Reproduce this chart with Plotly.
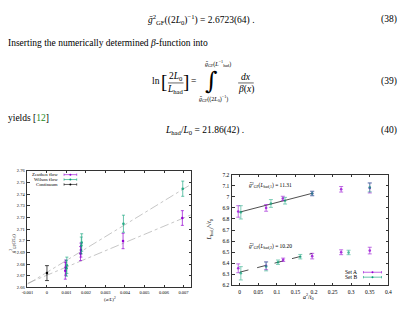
import plotly.graph_objects as go

W, H = 406, 314
def px(x): return x / W
def py(y): return 1 - y / H

# ---------------- data: left plot ----------------
zeu_x = [0.00094, 0.00096, 0.00172, 0.00174, 0.00390, 0.00694]
zeu_y = [2.6743, 2.6770, 2.6890, 2.6920, 2.6998, 2.7195]
zeu_e = [0.0072, 0.0065, 0.0060, 0.0060, 0.0066, 0.0063]
wil_x = [0.00100, 0.00102, 0.00176, 0.00178, 0.00392, 0.00696]
wil_y = [2.6765, 2.6790, 2.6960, 2.6985, 2.7146, 2.7446]
wil_e = [0.0068, 0.0070, 0.0072, 0.0075, 0.0073, 0.0065]
cont_x = [0.0]
cont_y = [2.6723]
cont_e = [0.0064]
fit_zeu = (2.6705, 7.0)    # intercept, slope
fit_wil = (2.6730, 10.2)
left_xrange = [-0.001, 0.0074]
left_yrange = [2.66, 2.76]
left_xticks = [-0.001, 0, 0.001, 0.002, 0.003, 0.004, 0.005, 0.006, 0.007]
left_xtext = ["-0.001", "0", "0.001", "0.002", "0.003", "0.004", "0.005", "0.006", "0.007"]
left_yticks = [2.66, 2.67, 2.68, 2.69, 2.70, 2.71, 2.72, 2.73, 2.74, 2.75, 2.76]
left_ytext = ["2.66", "2.67", "2.68", "2.69", "2.7", "2.71", "2.72", "2.73", "2.74", "2.75", "2.76"]

# ---------------- data: right plot ----------------
setA_x = [-0.004, 0.071, 0.116, 0.195, 0.273, 0.350, -0.004, 0.071, 0.117, 0.195, 0.273, 0.350]
setA_y = [6.868, 6.900, 6.985, 7.030, 7.068, 7.080, 6.355, 6.378, 6.432, 6.465, 6.500, 6.515]
setA_e = [0.052, 0.030, 0.020, 0.020, 0.025, 0.045, 0.040, 0.035, 0.015, 0.025, 0.022, 0.030]
setB_x = [0.003, 0.084, 0.122, 0.195, 0.350, 0.003, 0.071, 0.103, 0.163, 0.293]
setB_y = [6.860, 6.940, 6.965, 7.030, 7.085, 6.310, 6.372, 6.410, 6.460, 6.498]
setB_e = [0.060, 0.035, 0.030, 0.020, 0.040, 0.060, 0.040, 0.020, 0.020, 0.020]
fit_up = (6.862, 0.87)
fit_lo = (6.320, 0.87)
fit_xmax = 0.195
right_xrange = [-0.02, 0.4]
right_yrange = [6.2, 7.2]
right_xticks = [0, 0.05, 0.1, 0.15, 0.2, 0.25, 0.3, 0.35, 0.4]
right_xtext = ["0", "0.05", "0.1", "0.15", "0.2", "0.25", "0.3", "0.35", "0.4"]
right_yticks = [6.2, 6.3, 6.4, 6.5, 6.6, 6.7, 6.8, 6.9, 7.0, 7.1, 7.2]
right_ytext = ["6.2", "6.3", "6.4", "6.5", "6.6", "6.7", "6.8", "6.9", "7", "7.1", "7.2"]

PURPLE = "#9400d3"
TEAL = "#009e73"
SERIF = "Liberation Serif"

fig = go.Figure()

def errtrace(x, y, e, color, xa, ya, width=1.5, size=2.6, opacity=1.0):
    fig.add_trace(go.Scatter(
        x=x, y=y, mode="markers", xaxis=xa, yaxis=ya, opacity=opacity,
        marker=dict(color=color, size=size),
        error_y=dict(type="data", array=e, visible=True, color=color,
                     thickness=0.7, width=width),
        showlegend=False, hoverinfo="skip"))

# left fits
for (b, m) in (fit_zeu, fit_wil):
    xs = left_xrange
    fig.add_trace(go.Scatter(x=xs, y=[b + m * v for v in xs], mode="lines",
                             xaxis="x", yaxis="y",
                             line=dict(color="#a0a0a0", width=0.6, dash="dashdot"),
                             showlegend=False, hoverinfo="skip"))
errtrace(zeu_x, zeu_y, zeu_e, PURPLE, "x", "y")
errtrace(wil_x, wil_y, wil_e, TEAL, "x", "y", opacity=0.85)
errtrace(cont_x, cont_y, cont_e, "black", "x", "y", width=2)

# right fits
fig.add_trace(go.Scatter(x=[0, fit_xmax], y=[fit_up[0], fit_up[0] + fit_up[1] * fit_xmax],
                         mode="lines", xaxis="x2", yaxis="y2",
                         line=dict(color="#222", width=0.8),
                         showlegend=False, hoverinfo="skip"))
fig.add_trace(go.Scatter(x=[0, fit_xmax], y=[fit_lo[0], fit_lo[0] + fit_lo[1] * fit_xmax],
                         mode="lines", xaxis="x2", yaxis="y2",
                         line=dict(color="#222", width=0.8, dash="dash"),
                         showlegend=False, hoverinfo="skip"))
errtrace(setA_x, setA_y, setA_e, PURPLE, "x2", "y2", width=2, opacity=0.8)
errtrace(setB_x, setB_y, setB_e, TEAL, "x2", "y2", width=2, opacity=0.7)

axis_common = dict(showline=True, mirror="ticks", ticks="inside", ticklen=2.5,
                   tickwidth=0.6, linecolor="#333", linewidth=0.8, showgrid=False,
                   zeroline=False, tickcolor="#333")

fig.update_layout(
    width=W, height=H, margin=dict(l=0, r=0, t=0, b=0),
    paper_bgcolor="white", plot_bgcolor="white",
    font=dict(family=SERIF, color="black"),
    xaxis=dict(domain=[px(22), px(190)], range=left_xrange, anchor="y",
               tickvals=left_xticks, ticktext=left_xtext,
               tickfont=dict(size=4.5, family=SERIF), ticklabelstandoff=0, **axis_common),
    yaxis=dict(domain=[py(290), py(171)], range=left_yrange, anchor="x",
               tickvals=left_yticks, ticktext=left_ytext,
               tickfont=dict(size=4.5, family=SERIF), ticklabelstandoff=1, **axis_common),
    xaxis2=dict(domain=[px(232), px(392)], range=right_xrange, anchor="y2",
                tickvals=right_xticks, ticktext=right_xtext,
                tickfont=dict(size=5.5, family=SERIF), ticklabelstandoff=1, **axis_common),
    yaxis2=dict(domain=[py(288), py(175)], range=right_yrange, anchor="x2",
                tickvals=right_yticks, ticktext=right_ytext,
                tickfont=dict(size=5.5, family=SERIF), ticklabelstandoff=1, **axis_common),
)

ann = []
shapes = []
def text(x, y, t, size=9.5, xanchor="center", yanchor="middle", textangle=0, family=SERIF):
    ann.append(dict(x=px(x), y=py(y), xref="paper", yref="paper", text=t, showarrow=False,
                    xanchor=xanchor, yanchor=yanchor, textangle=textangle,
                    font=dict(size=size, family=family, color="black")))

def hline(x0, x1, y, color="black", width=0.6):
    shapes.append(dict(type="line", xref="paper", yref="paper", x0=px(x0), x1=px(x1),
                       y0=py(y), y1=py(y), line=dict(color=color, width=width)))

# ---------- page text ----------
text(200, 17, "<i>ḡ</i><sup>2</sup><sub>GF</sub>((2<i>L</i><sub>0</sub>)<sup>−1</sup>) = 2.6723(64) .")
text(403, 17, "(38)", xanchor="right")
text(0, 41, "Inserting the numerically determined <i>β</i>-function into", xanchor="left")
# eq 39
text(154, 80, "ln")
text(162, 80, "[", size=19)
text(185, 80, "]", size=19)
text(174, 75, "2<i>L</i><sub>0</sub>", size=9.5)
hline(166, 182, 81.5)
text(174, 88, "<i>L</i><sub>had</sub>", size=9.5)
text(192, 80, "=")
text(211, 80, "∫", size=24, family="DejaVu Serif")
text(217, 62, "<i>ḡ</i><sub>GF</sub>(<i>L</i><sup>−1</sup><sub>had</sub>)", size=6)
text(213, 97, "<i>ḡ</i><sub>GF</sub>((2<i>L</i><sub>0</sub>)<sup>−1</sup>)", size=6)
text(246, 75, "<i>dx</i>")
hline(238, 254, 81.5)
text(246, 88, "<i>β</i>(<i>x</i>)")
text(403, 80, "(39)", xanchor="right")
text(0, 117, "yields [<span style='color:#1a8a1a'>12</span>]", xanchor="left")
text(203, 130, "<i>L</i><sub>had</sub>/<i>L</i><sub>0</sub> = 21.86(42) .")
text(403, 130, "(40)", xanchor="right")

# ---------- left plot labels ----------
text(107, 301.5, "(<i>a</i>/<i>L</i>)<sup>2</sup>", size=5)
text(7, 245, "<i>ḡ</i><sup>2</sup><sub>GF</sub>(2<i>L</i><sub>0</sub>)", size=5, textangle=-90)

def legend_key(x0, x1, y, color, cap=1.2, w=0.6):
    hline(x0, x1, y, color, w)
    for xx in (x0, x1):
        shapes.append(dict(type="line", xref="paper", yref="paper", x0=px(xx), x1=px(xx),
                           y0=py(y - cap), y1=py(y + cap), line=dict(color=color, width=w)))
    xm = (x0 + x1) / 2
    shapes.append(dict(type="circle", xref="paper", yref="paper", x0=px(xm - 1), x1=px(xm + 1),
                       y0=py(y + 1), y1=py(y - 1), fillcolor=color, line=dict(width=0)))

left_legend = [("Zeuthen flow", PURPLE), ("Wilson flow", TEAL), ("Continuum", "black")]
for i, (name, col) in enumerate(left_legend):
    y = 175 + 5 * i
    text(55, y, name, size=4.8, xanchor="right")
    legend_key(59.5, 72.5, y, col)

# ---------- right plot labels ----------
text(310, 299, "<i>a</i><sup>2</sup>/<i>t</i><sub>0</sub>", size=6)
text(209, 231, "<i>L</i><sub>had,<i>i</i></sub>/√<i>t</i><sub>0</sub>", size=6, textangle=-90)
text(271, 187, "<i>ḡ</i><sup>2</sup><sub>GF</sub>(<i>L</i><sub>had,1</sub>) = 11.31", size=5.5)
text(271, 249, "<i>ḡ</i><sup>2</sup><sub>GF</sub>(<i>L</i><sub>had,2</sub>) = 10.20", size=5.5)
right_legend = [("Set A", PURPLE), ("Set B", TEAL)]
for i, (name, col) in enumerate(right_legend):
    y = 274.5 + 5 * i
    text(362, y, name, size=5.5, xanchor="right")
    legend_key(366.5, 385, y, col)

fig.update_layout(annotations=ann, shapes=shapes)
fig.write_html("out.html")
